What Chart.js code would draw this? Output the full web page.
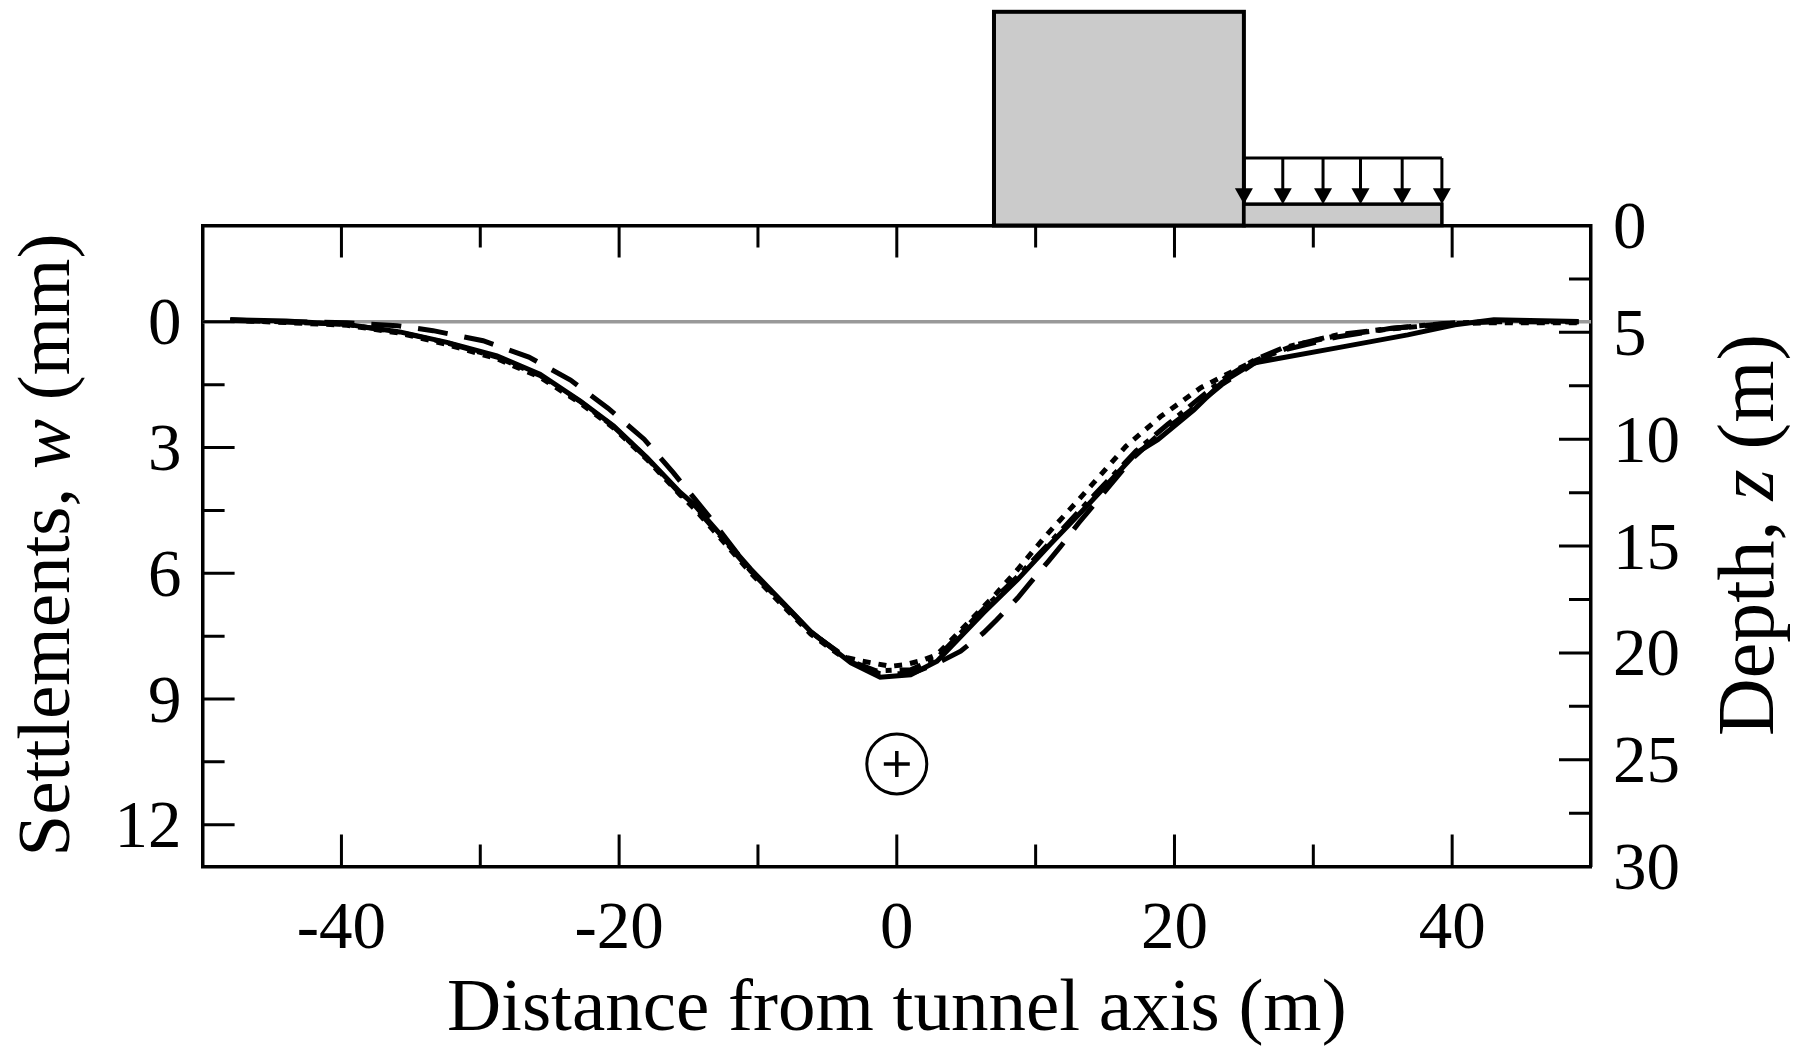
<!DOCTYPE html>
<html>
<head>
<meta charset="utf-8">
<title>Settlements</title>
<script src="https://cdn.jsdelivr.net/npm/chart.js@4"></script>
<style>
  html, body { margin: 0; padding: 0; background: #fff; }
  canvas { display: block; }
</style>
</head>
<body>
<canvas id="settlementChart" width="1795" height="1048"></canvas>
<script>
// tick labels and tick marks
var xTicks = [-40, -20, 0, 20, 40];
var xMinor = [-30, -10, 10, 30];
var wTicks = [0, 3, 6, 9, 12];
var wMinor = [1.5, 4.5, 7.5, 10.5];
var depthTicks = [0, 5, 10, 15, 20, 25, 30];
var depthMinor = [2.5, 7.5, 12.5, 17.5, 22.5, 27.5];

// settlement curves
var solidX = [-48, -44, -39.6, -35.8, -32.4, -28.8, -25.7, -22.8, -20.4, -18, -15.6, -14.6, -10.5, -6.2, -3.3, -1.2, 1, 2.9, 6.25, 8.7, 11.07, 13.8, 17.24, 18.8, 21.4, 23.4, 25.7, 31.7, 36.8, 40.2, 43, 49.1];
var solidW = [-0.05, -0.02, 0.06, 0.24, 0.49, 0.81, 1.25, 1.89, 2.48, 3.24, 4.07, 4.36, 5.91, 7.39, 8.14, 8.48, 8.42, 8.1, 6.94, 6.15, 5.3, 4.36, 3.13, 2.81, 2.1, 1.45, 0.98, 0.62, 0.31, 0.07, -0.05, -0.01];
var dashedX = [-48, -39.6, -36, -33.4, -29.8, -26.5, -23.5, -20.8, -18.2, -16.1, -13.5, -10.5, -6.2, -3.3, -1.2, 1, 2.9, 4.6, 6.25, 7.2, 8.7, 9.6, 10.9, 11.8, 13.1, 17, 19, 21.4, 23.4, 25.7, 27.8, 31.7, 35.5, 40, 43, 49.1];
var dashedW = [-0.03, 0.02, 0.09, 0.21, 0.45, 0.84, 1.39, 2.06, 2.8, 3.6, 4.65, 5.95, 7.4, 8.12, 8.4, 8.4, 8.15, 7.86, 7.42, 7.11, 6.59, 6.23, 5.72, 5.36, 4.8, 3.25, 2.65, 2.05, 1.5, 1, 0.68, 0.36, 0.16, 0.03, 0, 0];
var dottedX = [-48, -39.6, -35.8, -32.4, -28.8, -25.7, -22.8, -20.4, -18, -15.6, -14.6, -10.5, -6.2, -4, -2.6, -0.46, 0.62, 1.8, 2.9, 7.2, 8.7, 10.8, 13, 16.5, 19, 21.9, 23.7, 25.7, 28.8, 31.7, 35.5, 40, 43, 49.1];
var dottedW = [-0.04, 0.08, 0.27, 0.54, 0.88, 1.32, 1.94, 2.53, 3.28, 4.13, 4.45, 6, 7.45, 7.98, 8.09, 8.22, 8.18, 8.08, 7.94, 6.47, 5.91, 5.08, 4.28, 2.97, 2.26, 1.57, 1.26, 0.94, 0.54, 0.33, 0.17, 0.04, 0.02, 0.02];
var dashDotX = [-48, -39.6, -35.8, -32.4, -28.8, -25.7, -22.8, -20.4, -18, -15.6, -14.6, -10.5, -6.2, -3.3, -1.5, 1, 2.9, 6.25, 8.7, 11.07, 13.6, 17.24, 19.5, 21.7, 23.7, 25.7, 27.8, 31.7, 35.5, 39.4, 43, 49.1];
var dashDotW = [-0.05, 0.06, 0.25, 0.5, 0.84, 1.28, 1.9, 2.5, 3.25, 4.1, 4.4, 5.95, 7.4, 8.1, 8.33, 8.3, 8.02, 6.85, 6.08, 5.25, 4.35, 3.08, 2.45, 1.85, 1.32, 0.92, 0.62, 0.31, 0.16, 0.04, -0.01, 0];

// ground line, building, slab with its load, tunnel
var groundX = [-50, 50];
var groundW = [0, 0];
var buildingX = [7, 25];
var buildingTopW = -7.4;
var slabX = [25, 39.26];
var slabTopW = -2.81;
var loadTopW = -3.91;
var arrowX = [25, 27.8, 30.7, 33.4, 36.4, 39.26];
var tunnelX = [0];
var tunnelW = [10.55];

var serif = '"Liberation Serif", "Times New Roman", serif';
var tickFontSize = 67;
var titleFontSize = 75;
var depthTitleFontSize = 80;

function zip(xs, ys) {
    return xs.map(function(x, i) { return { x: x, y: ys[i] }; });
}

function fixedTicks(values) {
    return function(scale) {
        scale.ticks = values.map(function(v) { return { value: v }; });
    };
}

function curve(label, xs, ys, dash, order) {
    return {
        label: label,
        data: zip(xs, ys),
        borderColor: '#000',
        borderWidth: 5,
        borderDash: dash,
        pointRadius: 0,
        showLine: true,
        tension: 0,
        order: order
    };
}

// text with an italic run, written bottom to top
function verticalText(ctx, runs, cx, cy, size) {
    ctx.save();
    ctx.translate(cx, cy);
    ctx.rotate(-Math.PI / 2);
    ctx.fillStyle = '#000';
    ctx.textBaseline = 'middle';
    ctx.textAlign = 'left';
    var total = 0;
    runs.forEach(function(r) {
        ctx.font = (r.italic ? 'italic ' : '') + size + 'px ' + serif;
        r.w = ctx.measureText(r.text).width;
        total += r.w;
    });
    var pos = -total / 2;
    runs.forEach(function(r) {
        ctx.font = (r.italic ? 'italic ' : '') + size + 'px ' + serif;
        ctx.fillText(r.text, pos, 0);
        pos += r.w;
    });
    ctx.restore();
}

var surfacePlugin = {
    id: 'surface',
    beforeDatasetsDraw: function(chart) {
        var ctx = chart.ctx, x = chart.scales.x, y = chart.scales.y;
        var base = chart.chartArea.top;
        ctx.save();
        ctx.fillStyle = '#cbcbcb';
        ctx.strokeStyle = '#000';

        // building
        var bx0 = x.getPixelForValue(buildingX[0]), bx1 = x.getPixelForValue(buildingX[1]);
        var bTop = y.getPixelForValue(buildingTopW);
        ctx.lineWidth = 4;
        ctx.fillRect(bx0, bTop, bx1 - bx0, base - bTop);
        ctx.strokeRect(bx0, bTop, bx1 - bx0, base - bTop);

        // slab
        var sx0 = x.getPixelForValue(slabX[0]), sx1 = x.getPixelForValue(slabX[1]);
        var sTop = y.getPixelForValue(slabTopW);
        ctx.lineWidth = 3.5;
        ctx.fillRect(sx0, sTop, sx1 - sx0, base - sTop);
        ctx.strokeRect(sx0, sTop, sx1 - sx0, base - sTop);

        // load
        var lTop = y.getPixelForValue(loadTopW);
        ctx.lineWidth = 3;
        ctx.beginPath();
        ctx.moveTo(sx0, lTop);
        ctx.lineTo(sx1, lTop);
        ctx.stroke();
        ctx.fillStyle = '#000';
        arrowX.forEach(function(v) {
            var px = x.getPixelForValue(v);
            ctx.beginPath();
            ctx.moveTo(px, lTop);
            ctx.lineTo(px, sTop - 10);
            ctx.stroke();
            ctx.beginPath();
            ctx.moveTo(px - 9, sTop - 16);
            ctx.lineTo(px + 9, sTop - 16);
            ctx.lineTo(px, sTop);
            ctx.closePath();
            ctx.fill();
        });
        ctx.restore();
    },
    afterDraw: function(chart) {
        var ctx = chart.ctx, a = chart.chartArea, s = chart.scales;
        var longTick = 32, shortTick = 22;
        ctx.save();
        ctx.strokeStyle = '#000';
        ctx.lineWidth = 3;
        ctx.beginPath();
        function hTicks(values, len) {
            values.forEach(function(v) {
                var px = s.x.getPixelForValue(v);
                ctx.moveTo(px, a.top); ctx.lineTo(px, a.top + len);
                ctx.moveTo(px, a.bottom); ctx.lineTo(px, a.bottom - len);
            });
        }
        function vTicks(scale, values, len, edge, dir) {
            values.forEach(function(v) {
                var py = scale.getPixelForValue(v);
                ctx.moveTo(edge, py); ctx.lineTo(edge + dir * len, py);
            });
        }
        hTicks(xTicks, longTick);
        hTicks(xMinor, shortTick);
        vTicks(s.y, wTicks, longTick, a.left, 1);
        vTicks(s.y, wMinor, shortTick, a.left, 1);
        vTicks(s.depth, depthTicks, longTick, a.right, -1);
        vTicks(s.depth, depthMinor, shortTick, a.right, -1);
        ctx.stroke();
        ctx.restore();

        verticalText(ctx, [{ text: 'Settlements, ' }, { text: 'w', italic: true }, { text: ' (mm)' }], 49, 545, titleFontSize);
        verticalText(ctx, [{ text: 'Depth, ' }, { text: 'z', italic: true }, { text: ' (m)' }], 1752, 535, depthTitleFontSize);
    }
};

var chartEl = document.getElementById('settlementChart');
var settlementChart = new Chart(chartEl, {
    type: 'scatter',
    data: {
        datasets: [
            curve('Solid', solidX, solidW, [], 1),
            curve('Dash-dot', dashDotX, dashDotW, [22, 8, 6, 8], 2),
            curve('Dotted', dottedX, dottedW, [8, 8], 3),
            curve('Dashed', dashedX, dashedW, [30, 17], 4),
            {
                label: 'Ground',
                data: zip(groundX, groundW),
                borderColor: '#999',
                borderWidth: 3.5,
                pointRadius: 0,
                showLine: true,
                order: 5
            },
            {
                label: 'Tunnel',
                data: zip(tunnelX, tunnelW),
                pointStyle: 'circle',
                pointRadius: 30,
                pointBorderWidth: 3,
                pointBorderColor: '#000',
                pointBackgroundColor: 'rgba(0,0,0,0)',
                order: 6
            },
            {
                label: 'Tunnel axis',
                data: zip(tunnelX, tunnelW),
                pointStyle: 'crossRot',
                pointRotation: 45,
                pointRadius: 13,
                pointBorderWidth: 3.5,
                pointBorderColor: '#000',
                order: 7
            }
        ]
    },
    options: {
        responsive: false,
        animation: false,
        layout: { padding: 0 },
        plugins: {
            legend: { display: false },
            title: { display: false },
            tooltip: { enabled: false }
        },
        scales: {
            x: {
                type: 'linear',
                position: 'bottom',
                min: -50,
                max: 50,
                afterBuildTicks: fixedTicks(xTicks),
                afterFit: function(s) { s.height = 181.4; },
                grid: { display: false },
                border: { display: true, color: '#000', width: 3.5 },
                ticks: {
                    color: '#000',
                    padding: 16,
                    autoSkip: false,
                    maxRotation: 0,
                    font: { family: serif, size: tickFontSize }
                },
                title: {
                    display: true,
                    text: 'Distance from tunnel axis (m)',
                    color: '#000',
                    padding: { top: 0, bottom: 0 },
                    font: { family: serif, size: titleFontSize, lineHeight: 1 }
                }
            },
            xTop: {
                type: 'linear',
                position: 'top',
                min: -50,
                max: 50,
                afterFit: function(s) { s.height = 225.5; },
                grid: { display: false },
                border: { display: true, color: '#000', width: 3.5 },
                ticks: { display: false }
            },
            y: {
                type: 'linear',
                position: 'left',
                reverse: true,
                min: -2.3,
                max: 13,
                afterBuildTicks: fixedTicks(wTicks),
                afterFit: function(s) { s.width = 202.6; },
                grid: { display: false },
                border: { display: true, color: '#000', width: 3.5 },
                ticks: {
                    color: '#000',
                    padding: 13,
                    labelOffset: 5,
                    autoSkip: false,
                    font: { family: serif, size: tickFontSize }
                }
            },
            depth: {
                type: 'linear',
                position: 'right',
                reverse: true,
                min: 0,
                max: 30,
                afterBuildTicks: fixedTicks(depthTicks),
                afterFit: function(s) { s.width = 204; },
                grid: { display: false },
                border: { display: true, color: '#000', width: 3.5 },
                ticks: {
                    color: '#000',
                    padding: 14,
                    labelOffset: 5,
                    autoSkip: false,
                    font: { family: serif, size: tickFontSize }
                }
            }
        }
    },
    plugins: [surfacePlugin]
});
</script>
</body>
</html>
